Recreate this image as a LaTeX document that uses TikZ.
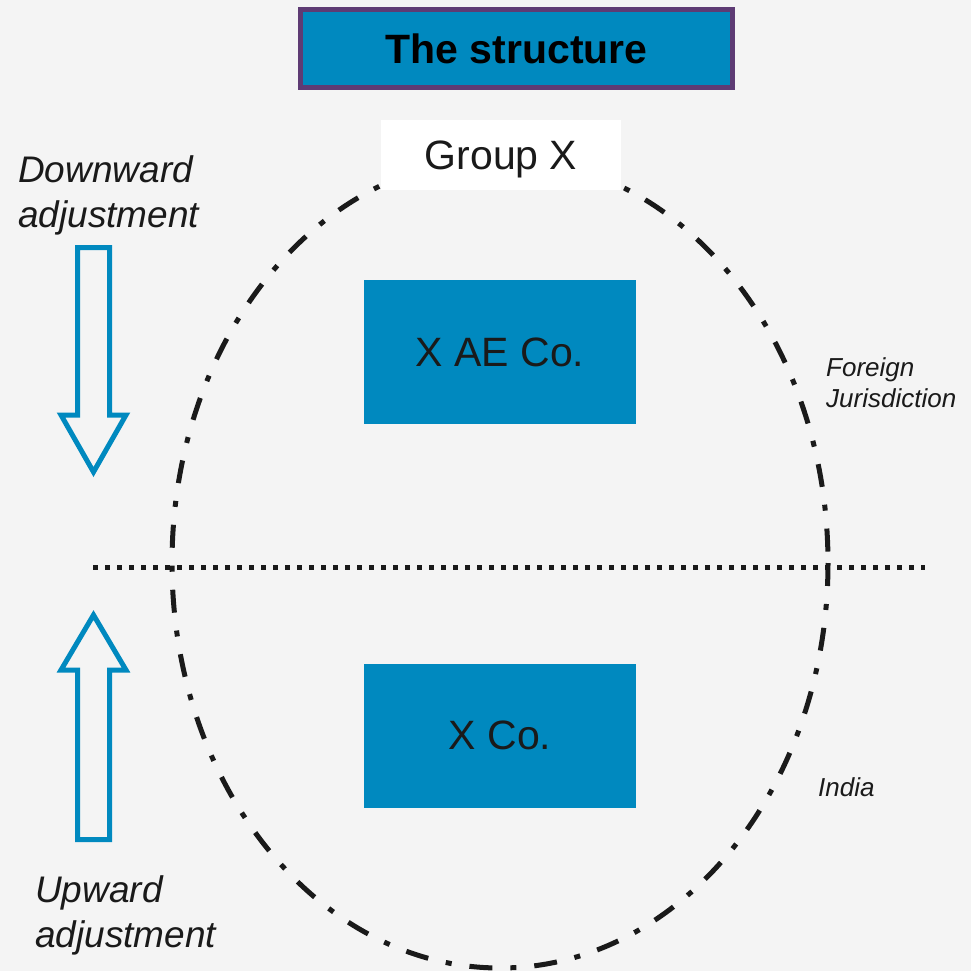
\documentclass[tikz,border=0pt]{standalone}
\usepackage{fontspec}
\setmainfont{Liberation Sans}
\definecolor{bg}{HTML}{F4F4F4}
\definecolor{boxblue}{HTML}{0089BF}
\definecolor{purp}{HTML}{5E3B74}
\definecolor{ink}{HTML}{1A1A1A}
\begin{document}
\begin{tikzpicture}[x=1pt,y=-1pt,
  bluebox/.style={fill=boxblue,draw=none,minimum width=272pt,minimum height=144pt,inner sep=0pt,text=ink,font=\fontsize{41}{48}\selectfont},
  lbl/.style={font=\itshape\fontsize{37}{45}\selectfont,text=ink,align=left,inner sep=0pt,anchor=west},
  small/.style={font=\itshape\fontsize{26}{31}\selectfont,text=ink,align=left,inner sep=0pt,anchor=west},
  hollow/.style={draw=boxblue,line width=5pt,fill=bg,line join=miter}]
\fill[bg] (0,0) rectangle (971,971);
\useasboundingbox (0,0) rectangle (971,971);
% ellipse
\draw[line width=5pt,ink,dash pattern=on 23pt off 18pt on 6pt off 18pt] (500,563) ellipse [x radius=328, y radius=405];
% title
\node[fill=boxblue,draw=purp,line width=5pt,minimum width=432pt,minimum height=78pt,inner sep=0pt,font=\bfseries\fontsize{41}{48}\selectfont,text=black] (title) at (516.5,48.5) {The structure};
% group X
\node[fill=white,minimum width=240pt,minimum height=70pt,inner sep=0pt,text depth=0pt,text=ink,font=\fontsize{41}{48}\selectfont] (grp) at (501,155) {Group X};
% boxes
\node[bluebox] (ae) at (500,352) {X AE Co.};
\node[bluebox] (xco) at (500,735.5) {X Co.};
% dotted line
\coordinate (dl) at (93,567);
\coordinate (dr) at (925,567);
\draw[line width=5pt,ink,dash pattern=on 5pt off 7pt] (dl) -- (dr);
% arrows
\draw[hollow] (77.5,247.5) -- (109.5,247.5) -- (109.5,415) -- (126,415) -- (93.5,472) -- (61,415) -- (77.5,415) -- cycle;
\draw[hollow] (77.5,839.5) -- (109.5,839.5) -- (109.5,670) -- (126,670) -- (93.5,615) -- (61,670) -- (77.5,670) -- cycle;
% labels
\node[lbl] (down) at (18,195) {Downward\\adjustment};
\node[lbl] (up) at (35,915) {Upward\\adjustment};
\node[small] (fj) at (826,383) {Foreign\\Jurisdiction};
\node[small] (ind) at (818,787) {India};
\end{tikzpicture}
\end{document}
